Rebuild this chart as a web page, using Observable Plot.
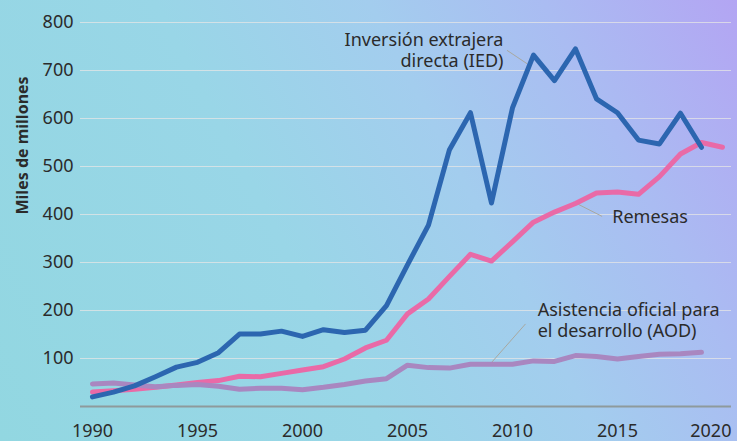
<!DOCTYPE html>
<html>
<head>
<meta charset="utf-8">
<script src="https://cdn.jsdelivr.net/npm/d3@7"></script>
<script src="https://cdn.jsdelivr.net/npm/@observablehq/plot@0.6"></script>
<style>
  html, body { margin: 0; padding: 0; }
  body {
    width: 737px; height: 441px; overflow: hidden;
    background: linear-gradient(62deg, #92d7e1 0%, #99d6e7 40%, #a3cdee 62%, #aabcf2 80%, #b3a5f3 100%);
    font-family: "Noto Sans", sans-serif;
  }
  #chart svg { display: block; background: transparent; }
</style>
</head>
<body>
<div id="chart"></div>
<script>
// ---- Data ----
const years = [1990,1991,1992,1993,1994,1995,1996,1997,1998,1999,2000,2001,2002,2003,2004,2005,2006,2007,2008,2009,2010,2011,2012,2013,2014,2015,2016,2017,2018,2019,2020];
// Inversión extranjera directa (IED), 1990-2019
const ied = [20,30,43,62,82,92,112,151,151,157,146,160,154,159,210,295,378,535,612,424,622,732,679,745,641,612,555,547,611,540];
// Remesas, 1990-2020
const remesas = [30,33,36,40,45,50,54,63,62,69,76,83,99,122,138,193,224,271,317,303,343,384,405,423,445,447,442,479,526,550,540];
// Asistencia oficial para el desarrollo (AOD), 1990-2019
const aod = [47,49,45,41,44,46,42,36,38,38,35,40,46,53,58,86,81,80,88,88,88,95,94,106,104,99,104,109,110,113];

const yTicks = [100,200,300,400,500,600,700,800];
const xTicks = [1990,1995,2000,2005,2010,2015];
const xTicksEnd = [2020];
const yLabel = "Miles de millones";

// Annotation labels and leader lines
const labelIED = [{x: 2009.57, y: 744, text: "Inversión extrajera\ndirecta (IED)"}];
const labelRem = [{x: 2014.75, y: 394, text: "Remesas"}];
const labelAOD = [{x: 2011.2, y: 181, text: "Asistencia oficial para\nel desarrollo (AOD)"}];
const leaders = [
  {x1: 2009.74, y1: 742, x2: 2010.70, y2: 714},
  {x1: 2014.27, y1: 396, x2: 2012.92, y2: 426},
  {x1: 2010.62, y1: 172, x2: 2008.95, y2: 89}
];

const toRows = (vals) => vals.map((v, i) => ({year: years[i], value: v}));
const iedRows = toRows(ied);
const remRows = toRows(remesas);
const aodRows = toRows(aod);

const colors = {ied: "#2c66b0", rem: "#e96aa7", aod: "#a987c0"};
const textColor = "#2b2b2b";

const chart = Plot.plot({
  width: 737,
  height: 441,
  marginLeft: 80,
  marginRight: 6,
  marginTop: 22,
  marginBottom: 35,
  style: {fontFamily: "Noto Sans", fontSize: "18px", color: textColor, background: "transparent"},
  x: {type: "linear", domain: [1989.43, 2020.43]},
  y: {domain: [0, 800]},
  marks: [
    Plot.gridY(yTicks, {stroke: "#e6e6e6", strokeOpacity: 0.75, strokeWidth: 1}),
    Plot.ruleY([0], {stroke: "#8e9a9c", strokeWidth: 2}),
    Plot.axisY(yTicks, {tickSize: 0, tickPadding: 7, label: null, fontSize: 18, fill: textColor}),
    Plot.axisX(xTicks, {tickSize: 0, tickPadding: 18, label: null, tickFormat: d => String(d), fontSize: 18, fill: textColor}),
    Plot.axisX(xTicksEnd, {tickSize: 0, tickPadding: 18, label: null, tickFormat: d => String(d), fontSize: 18, fill: textColor, textAnchor: "end", dx: 9}),
    Plot.text([yLabel], {frameAnchor: "left", dx: -58, rotate: -90, text: d => d, fontSize: 16, fontWeight: "bold", fill: textColor}),
    Plot.link(leaders, {x1: "x1", y1: "y1", x2: "x2", y2: "y2", stroke: "#a8a8a0", strokeWidth: 1}),
    Plot.line(remRows, {x: "year", y: "value", stroke: colors.rem, strokeWidth: 5, strokeLinejoin: "round", strokeLinecap: "round"}),
    Plot.line(aodRows, {x: "year", y: "value", stroke: colors.aod, strokeWidth: 5, strokeLinejoin: "round", strokeLinecap: "round"}),
    Plot.line(iedRows, {x: "year", y: "value", stroke: colors.ied, strokeWidth: 5, strokeLinejoin: "round", strokeLinecap: "round"}),
    Plot.text(labelIED, {x: "x", y: "y", text: "text", textAnchor: "end", lineHeight: 1.17, fontSize: 18, fill: textColor}),
    Plot.text(labelRem, {x: "x", y: "y", text: "text", textAnchor: "start", fontSize: 18, fill: textColor}),
    Plot.text(labelAOD, {x: "x", y: "y", text: "text", textAnchor: "start", lineHeight: 1.17, fontSize: 18, fill: textColor})
  ]
});
document.getElementById("chart").appendChild(chart);
</script>
</body>
</html>
